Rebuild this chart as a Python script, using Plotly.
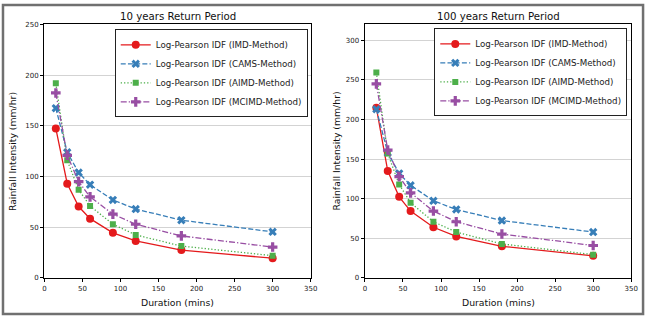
import plotly.graph_objects as go

# ---------------- data ----------------
durations = [15, 30, 45, 60, 90, 120, 180, 300]

series_names = [
    "Log-Pearson IDF (IMD-Method)",
    "Log-Pearson IDF (CAMS-Method)",
    "Log-Pearson IDF (AIMD-Method)",
    "Log-Pearson IDF (MCIMD-Method)",
]

# 10 years return period
imd_10 = [147.5, 93, 70.5, 58.5, 44.5, 36.5, 27.5, 19.5]
cams_10 = [167.5, 124, 104, 92, 77, 68, 57, 45.5]
aimd_10 = [192, 116, 87, 71, 53, 42.5, 31.5, 22]
mcimd_10 = [182.5, 121, 95, 80, 63, 53, 41.5, 30.5]

# 100 years return period
imd_100 = [215, 135, 102.5, 84.5, 64, 52.5, 40, 28]
cams_100 = [213, 158, 132, 117, 97.5, 86.5, 72.5, 58]
aimd_100 = [259.5, 157, 118, 95, 71, 58, 43, 29.5]
mcimd_100 = [245, 161.5, 128, 107.5, 84.5, 71, 55.5, 41]

panel_titles = ["10 years Return Period", "100 years Return Period"]
x_label = "Duration (mins)"
y_label = "Rainfall Intensity (mm/hr)"

# ---------------- style ----------------
W, H = 654, 321
FONT = "DejaVu Sans"
colors = ["#e41a1c", "#377eb8", "#4daf4a", "#984ea3"]
symbols = ["circle", "x", "square", "cross"]
msizes = [8, 7.5, 6, 8]
dashes = ["solid", "5px,2.2px", "1.3px,2px", "6px,2px,1.3px,2px"]

def px_x(p):
    return p / W

def px_y(p):
    return 1 - p / H

panels = [
    dict(xd=[px_x(43), px_x(313)], yr=[0, 250], data=[imd_10, cams_10, aimd_10, mcimd_10],
         legend="legend", xa="x", ya="y", lx=px_x(310), ly=px_y(26), yl_x=px_x(10)),
    dict(xd=[px_x(368), px_x(638)], yr=[0, 320], data=[imd_100, cams_100, aimd_100, mcimd_100],
         legend="legend2", xa="x2", ya="y2", lx=px_x(634), ly=px_y(25), yl_x=px_x(339)),
]
ydom = [px_y(281), px_y(21)]

fig = go.Figure()
layout = dict(
    width=W, height=H,
    margin=dict(l=0, r=0, t=0, b=0),
    paper_bgcolor="white", plot_bgcolor="white",
    font=dict(family=FONT, color="#222222"),
    showlegend=True,
    shapes=[], annotations=[],
)

for i, p in enumerate(panels):
    for k in range(4):
        fig.add_trace(go.Scatter(
            x=durations, y=p["data"][k], name=series_names[k],
            mode="lines+markers",
            line=dict(color=colors[k], width=1.3, dash=dashes[k]),
            marker=dict(symbol=symbols[k], size=msizes[k], color=colors[k], line=dict(width=0)),
            xaxis=p["xa"], yaxis=p["ya"], legend=p["legend"],
        ))
    suffix = "" if i == 0 else "2"
    axis_common = dict(showline=True, mirror=True, linecolor="black", linewidth=0.8,
                       ticks="outside", ticklen=3.5, tickwidth=0.8, tickcolor="black",
                       tickfont=dict(size=7, family=FONT, color="#222222"), zeroline=False)
    layout["xaxis" + suffix] = dict(domain=p["xd"], range=[0, 350], dtick=50, tick0=0,
                                    showgrid=False, anchor="y" + suffix, **axis_common)
    layout["yaxis" + suffix] = dict(domain=ydom, range=p["yr"], dtick=50, tick0=0,
                                    showgrid=True, gridcolor="#d3d3d3", gridwidth=0.8,
                                    anchor="x" + suffix, **axis_common)
    layout[p["legend"]] = dict(x=p["lx"], y=p["ly"], xanchor="right", yanchor="top",
                               xref="paper", yref="paper",
                               bgcolor="white", bordercolor="#222222", borderwidth=1,
                               font=dict(size=8.7, family=FONT, color="#222222"),
                               tracegroupgap=0, itemwidth=30)
    cx = (p["xd"][0] + p["xd"][1]) / 2
    layout["annotations"].append(dict(text=panel_titles[i], x=cx, y=px_y(12.5), xref="paper", yref="paper",
                                      showarrow=False, xanchor="center", yanchor="middle",
                                      font=dict(size=10.2, family=FONT, color="#111111")))
    layout["annotations"].append(dict(text=x_label, x=cx, y=px_y(306), xref="paper", yref="paper",
                                      showarrow=False, xanchor="center", yanchor="middle",
                                      font=dict(size=9.3, family=FONT, color="#111111")))
    layout["annotations"].append(dict(text=y_label, x=p["yl_x"], y=(ydom[0] + ydom[1]) / 2,
                                      xref="paper", yref="paper", textangle=-90,
                                      showarrow=False, xanchor="center", yanchor="middle",
                                      font=dict(size=9.3, family=FONT, color="#111111")))

# outer frame
layout["shapes"].append(dict(type="rect", xref="paper", yref="paper",
                             x0=px_x(1), x1=px_x(650), y0=px_y(318), y1=px_y(1),
                             line=dict(color="#707070", width=2.5)))

fig.update_layout(**layout)
fig.write_html("out.html")
